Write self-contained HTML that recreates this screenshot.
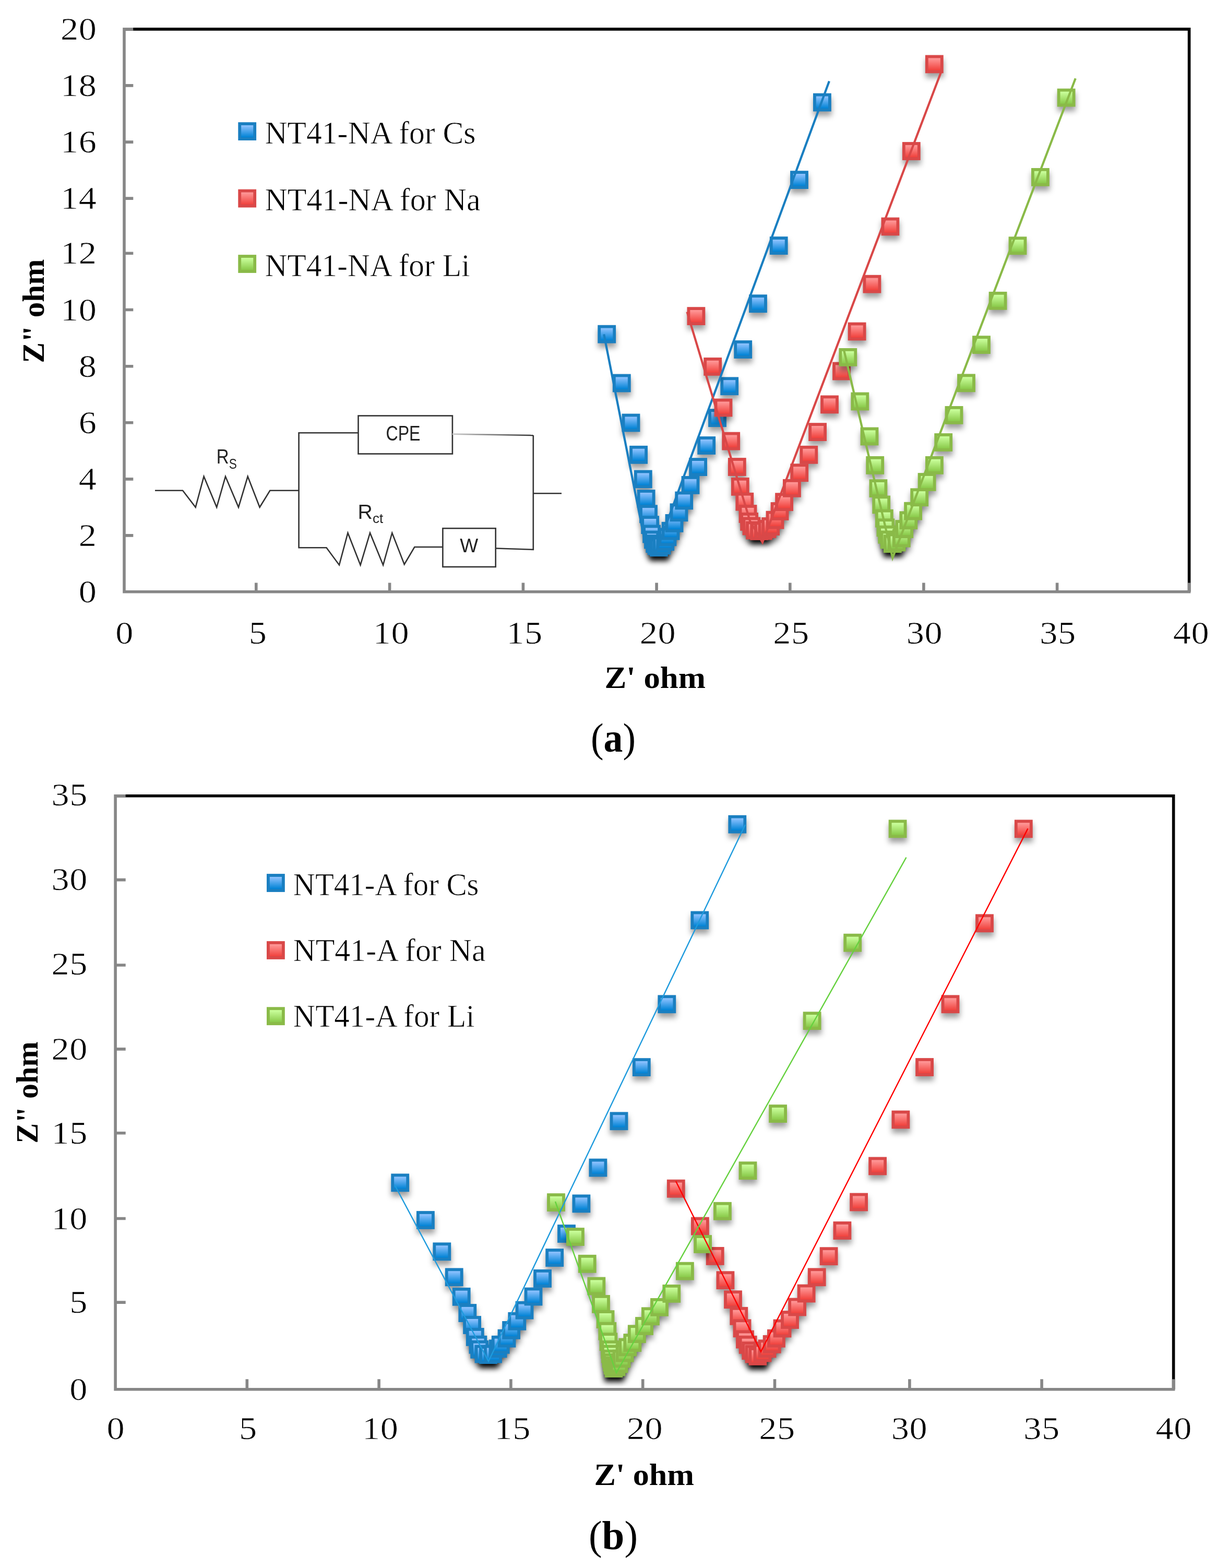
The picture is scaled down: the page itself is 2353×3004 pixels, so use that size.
<!DOCTYPE html>
<html lang="en"><head><meta charset="utf-8"><title>Nyquist plots</title>
<style>
html,body{margin:0;padding:0;background:#fff}
body{width:2353px;height:3004px;overflow:hidden}
svg{display:block;position:absolute;left:0;top:0}
text{font-family:"Liberation Serif",serif;fill:#000}
.tk{font-size:61px;stroke:#fff;stroke-width:0.7px}
.lg{font-size:62px;stroke:#fff;stroke-width:0.7px}
.ax{font-size:59px;font-weight:bold}
.cap{font-size:79px}
.ckt{font-family:"Liberation Sans",sans-serif;fill:#222}
</style></head><body>
<svg width="2353" height="3004" viewBox="0 0 2353 3004">
<defs>
<linearGradient id="gb" x1="0" y1="0" x2="0" y2="1"><stop offset="0.12" stop-color="#8ec2ff"/><stop offset="0.88" stop-color="#0384d6"/></linearGradient>
<linearGradient id="gr" x1="0" y1="0" x2="0" y2="1"><stop offset="0.12" stop-color="#ff9898"/><stop offset="0.88" stop-color="#f1443f"/></linearGradient>
<linearGradient id="gg" x1="0" y1="0" x2="0" y2="1"><stop offset="0.12" stop-color="#caff9c"/><stop offset="0.88" stop-color="#8bcb4c"/></linearGradient>
<filter id="sh" x="-10%" y="-10%" width="120%" height="120%"><feGaussianBlur stdDeviation="5.5"/></filter>
</defs>
<rect width="2353" height="3004" fill="#fff"/>
<path d="M238 55.9 H2278.6 V1133.8" fill="none" stroke="#000" stroke-width="5.6" stroke-linejoin="miter"/>
<path d="M238 53.1 V1133.8 H2281.4" fill="none" stroke="#878787" stroke-width="5.6" stroke-linejoin="miter"/>
<path d="M238 1025.9 h17.3 M238 917.9 h17.3 M238 809.7 h17.3 M238 701.7 h17.3 M238 593.5 h17.3 M238 485.3 h17.3 M238 380.1 h17.3 M238 272.1 h17.3 M238 163.9 h17.3 M238 55.9 h17.3 M490.8 1133.8 v-17.3 M746.6 1133.8 v-17.3 M1002.4 1133.8 v-17.3 M1258.1 1133.8 v-17.3 M1513.8 1133.8 v-17.3 M1769.9 1133.8 v-17.3 M2025.6 1133.8 v-17.3 M2278.6 1133.8 v-17.3" fill="none" stroke="#878787" stroke-width="5.6"/>
<text class="tk" text-anchor="end" transform="translate(185.5 1154.2) scale(1.12 1)" letter-spacing="0.5">0</text>
<text class="tk" text-anchor="end" transform="translate(185.5 1046) scale(1.12 1)" letter-spacing="0.5">2</text>
<text class="tk" text-anchor="end" transform="translate(185.5 937.8) scale(1.12 1)" letter-spacing="0.5">4</text>
<text class="tk" text-anchor="end" transform="translate(185.5 829.6) scale(1.12 1)" letter-spacing="0.5">6</text>
<text class="tk" text-anchor="end" transform="translate(185.5 721.8) scale(1.12 1)" letter-spacing="0.5">8</text>
<text class="tk" text-anchor="end" transform="translate(185.5 613.5) scale(1.12 1)" letter-spacing="0.5">10</text>
<text class="tk" text-anchor="end" transform="translate(185.5 505.3) scale(1.12 1)" letter-spacing="0.5">12</text>
<text class="tk" text-anchor="end" transform="translate(185.5 400.4) scale(1.12 1)" letter-spacing="0.5">14</text>
<text class="tk" text-anchor="end" transform="translate(185.5 292.1) scale(1.12 1)" letter-spacing="0.5">16</text>
<text class="tk" text-anchor="end" transform="translate(185.5 183.9) scale(1.12 1)" letter-spacing="0.5">18</text>
<text class="tk" text-anchor="end" transform="translate(185.5 75.7) scale(1.12 1)" letter-spacing="0.5">20</text>
<text class="tk" text-anchor="middle" transform="translate(238.5 1232.7) scale(1.12 1)" letter-spacing="0.5">0</text>
<text class="tk" text-anchor="middle" transform="translate(494 1232.7) scale(1.12 1)" letter-spacing="0.5">5</text>
<text class="tk" text-anchor="middle" transform="translate(749.5 1232.7) scale(1.12 1)" letter-spacing="0.5">10</text>
<text class="tk" text-anchor="middle" transform="translate(1005 1232.7) scale(1.12 1)" letter-spacing="0.5">15</text>
<text class="tk" text-anchor="middle" transform="translate(1260.5 1232.7) scale(1.12 1)" letter-spacing="0.5">20</text>
<text class="tk" text-anchor="middle" transform="translate(1516 1232.7) scale(1.12 1)" letter-spacing="0.5">25</text>
<text class="tk" text-anchor="middle" transform="translate(1771.5 1232.7) scale(1.12 1)" letter-spacing="0.5">30</text>
<text class="tk" text-anchor="middle" transform="translate(2027 1232.7) scale(1.12 1)" letter-spacing="0.5">35</text>
<text class="tk" text-anchor="middle" transform="translate(2282.5 1232.7) scale(1.12 1)" letter-spacing="0.5">40</text>
<rect x="459.2" y="237.1" width="29" height="29" fill="url(#gb)" stroke="#1a7fc1" stroke-width="5.8"/>
<text class="lg" x="507.5" y="274.6" textLength="404" lengthAdjust="spacingAndGlyphs">NT41-NA for Cs</text>
<rect x="459.2" y="365.6" width="29" height="29" fill="url(#gr)" stroke="#d94848" stroke-width="5.8"/>
<text class="lg" x="507.5" y="403.1" textLength="413" lengthAdjust="spacingAndGlyphs">NT41-NA for Na</text>
<rect x="459.2" y="491" width="29" height="29" fill="url(#gg)" stroke="#8aba48" stroke-width="5.8"/>
<text class="lg" x="507.5" y="529.4" textLength="393" lengthAdjust="spacingAndGlyphs">NT41-NA for Li</text>
<text class="ax" x="1158.5" y="1317.8" textLength="193.5" lengthAdjust="spacingAndGlyphs">Z' ohm</text>
<text class="ax" transform="translate(84.3 695.5) rotate(-90)" textLength="199" lengthAdjust="spacingAndGlyphs">Z" ohm</text>
<text class="cap" x="1132" y="1440.2" textLength="86" lengthAdjust="spacingAndGlyphs">(<tspan font-weight="bold">a</tspan>)</text>
<g fill="none" stroke="#333" stroke-width="2.6" stroke-linejoin="miter">
<path d="M297 939.8 H350.1 L374.7 971.8 L390.6 912.8 L415.2 971.8 L432 912.8 L457 971.8 L474.7 912.8 L497.6 971.8 L517.3 939.8 H572.6"/>
<path d="M686.5 829.2 H572.6 V1049.2 H625.5 L650 1082.4 L666.5 1021 L690.6 1082.4 L709 1021 L734.1 1082.4 L751.3 1021 L774.7 1081.2 L794.3 1048 H848.4"/>
<rect x="686.5" y="796.5" width="180.4" height="73"/>
<rect x="848.4" y="1012.2" width="101.3" height="73.8"/>
<path d="M949.7 1050.5 L1021.8 1052.9 V834.1"/>
<path d="M1021.8 945.2 H1076"/>
</g>
<defs><linearGradient id="fade" gradientUnits="userSpaceOnUse" x1="867" y1="0" x2="1022" y2="0"><stop offset="0" stop-color="#ccc"/><stop offset="1" stop-color="#333"/></linearGradient></defs>
<path d="M866.9 831.6 L1021.8 834.1" fill="none" stroke="url(#fade)" stroke-width="2.6"/>
<text class="ckt" x="739.5" y="844" font-size="41" textLength="66" lengthAdjust="spacingAndGlyphs">CPE</text>
<text class="ckt" x="881.2" y="1057.8" font-size="36.5" textLength="35" lengthAdjust="spacingAndGlyphs">W</text>
<text class="ckt" x="414.8" y="888.2" font-size="39.5" textLength="39" lengthAdjust="spacingAndGlyphs">R<tspan font-size="27" dy="9.5">S</tspan></text>
<text class="ckt" x="685.6" y="993.9" font-size="39.5" textLength="48.5" lengthAdjust="spacingAndGlyphs">R<tspan font-size="26" dy="8.5">ct</tspan></text>
<g filter="url(#sh)" fill="#000" fill-opacity="0.38"><rect x="1145.8" y="631.3" width="34.8" height="34.8"/><rect x="1174.4" y="725.1" width="34.8" height="34.8"/><rect x="1192.1" y="801.1" width="34.8" height="34.8"/><rect x="1206.7" y="862.4" width="34.8" height="34.8"/><rect x="1215.4" y="909.1" width="34.8" height="34.8"/><rect x="1221.2" y="946.6" width="34.8" height="34.8"/><rect x="1225.6" y="975.8" width="34.8" height="34.8"/><rect x="1228.8" y="996.7" width="34.8" height="34.8"/><rect x="1231.7" y="1014.1" width="34.8" height="34.8"/><rect x="1234.6" y="1025.1" width="34.8" height="34.8"/><rect x="1237.8" y="1032.8" width="34.8" height="34.8"/><rect x="1241.1" y="1037.1" width="34.8" height="34.8"/><rect x="1245.5" y="1039.9" width="34.8" height="34.8"/><rect x="1251.1" y="1036.1" width="34.8" height="34.8"/><rect x="1257.8" y="1028.9" width="34.8" height="34.8"/><rect x="1262" y="1019.9" width="34.8" height="34.8"/><rect x="1268.1" y="1008.3" width="34.8" height="34.8"/><rect x="1275.1" y="993.5" width="34.8" height="34.8"/><rect x="1284.1" y="972.9" width="34.8" height="34.8"/><rect x="1293.8" y="950.1" width="34.8" height="34.8"/><rect x="1306.1" y="920.5" width="34.8" height="34.8"/><rect x="1320.7" y="885.7" width="34.8" height="34.8"/><rect x="1336.8" y="844.6" width="34.8" height="34.8"/><rect x="1357.6" y="791.8" width="34.8" height="34.8"/><rect x="1380.8" y="730.9" width="34.8" height="34.8"/><rect x="1406.8" y="660.6" width="34.8" height="34.8"/><rect x="1435.6" y="572.8" width="34.8" height="34.8"/><rect x="1475.3" y="461.7" width="34.8" height="34.8"/><rect x="1514.6" y="335.7" width="34.8" height="34.8"/><rect x="1558.5" y="187.2" width="34.8" height="34.8"/><rect x="1244" y="1039.9" width="34.8" height="34.8"/><rect x="1245.5" y="1039.9" width="34.8" height="34.8"/><rect x="1247" y="1039.9" width="34.8" height="34.8"/><rect x="1244" y="1038.9" width="34.8" height="34.8"/><rect x="1245.5" y="1038.9" width="34.8" height="34.8"/><rect x="1247" y="1038.9" width="34.8" height="34.8"/><rect x="1244" y="1037.9" width="34.8" height="34.8"/><rect x="1245.5" y="1037.9" width="34.8" height="34.8"/><rect x="1247" y="1037.9" width="34.8" height="34.8"/><rect x="1244" y="1036.9" width="34.8" height="34.8"/><rect x="1245.5" y="1036.9" width="34.8" height="34.8"/><rect x="1247" y="1036.9" width="34.8" height="34.8"/><rect x="1244" y="1035.9" width="34.8" height="34.8"/><rect x="1245.5" y="1035.9" width="34.8" height="34.8"/></g>
<g fill="url(#gb)" stroke="#1a7fc1" stroke-width="5.8"><rect x="1148.2" y="625.7" width="29" height="29"/><rect x="1176.8" y="719.5" width="29" height="29"/><rect x="1194.5" y="795.5" width="29" height="29"/><rect x="1209.1" y="856.8" width="29" height="29"/><rect x="1217.8" y="903.5" width="29" height="29"/><rect x="1223.6" y="941" width="29" height="29"/><rect x="1228" y="970.2" width="29" height="29"/><rect x="1231.2" y="991.1" width="29" height="29"/><rect x="1234.1" y="1008.5" width="29" height="29"/><rect x="1237" y="1019.5" width="29" height="29"/><rect x="1240.2" y="1027.2" width="29" height="29"/><rect x="1243.5" y="1031.5" width="29" height="29"/><rect x="1247.9" y="1034.3" width="29" height="29"/><rect x="1253.5" y="1030.5" width="29" height="29"/><rect x="1260.2" y="1023.3" width="29" height="29"/><rect x="1264.4" y="1014.3" width="29" height="29"/><rect x="1270.5" y="1002.7" width="29" height="29"/><rect x="1277.5" y="987.9" width="29" height="29"/><rect x="1286.5" y="967.3" width="29" height="29"/><rect x="1296.2" y="944.5" width="29" height="29"/><rect x="1308.5" y="914.9" width="29" height="29"/><rect x="1323.1" y="880.1" width="29" height="29"/><rect x="1339.2" y="839" width="29" height="29"/><rect x="1360" y="786.2" width="29" height="29"/><rect x="1383.2" y="725.3" width="29" height="29"/><rect x="1409.2" y="655" width="29" height="29"/><rect x="1438" y="567.2" width="29" height="29"/><rect x="1477.7" y="456.1" width="29" height="29"/><rect x="1517" y="330.1" width="29" height="29"/><rect x="1560.9" y="181.6" width="29" height="29"/></g>
<g filter="url(#sh)" fill="#000" fill-opacity="0.38"><rect x="1317" y="596.7" width="34.8" height="34.8"/><rect x="1348.8" y="693.5" width="34.8" height="34.8"/><rect x="1369.1" y="772.1" width="34.8" height="34.8"/><rect x="1383.8" y="836.2" width="34.8" height="34.8"/><rect x="1395.4" y="885.6" width="34.8" height="34.8"/><rect x="1401.4" y="923.4" width="34.8" height="34.8"/><rect x="1409.9" y="952.3" width="34.8" height="34.8"/><rect x="1416.1" y="975.6" width="34.8" height="34.8"/><rect x="1418.7" y="990.5" width="34.8" height="34.8"/><rect x="1423.1" y="999.1" width="34.8" height="34.8"/><rect x="1429.6" y="1007.1" width="34.8" height="34.8"/><rect x="1437.8" y="1008.6" width="34.8" height="34.8"/><rect x="1445.6" y="1008.1" width="34.8" height="34.8"/><rect x="1453.1" y="1004.6" width="34.8" height="34.8"/><rect x="1459.7" y="999.6" width="34.8" height="34.8"/><rect x="1468.1" y="987.3" width="34.8" height="34.8"/><rect x="1477.1" y="970.6" width="34.8" height="34.8"/><rect x="1485.7" y="952.8" width="34.8" height="34.8"/><rect x="1500.5" y="926.4" width="34.8" height="34.8"/><rect x="1514.8" y="896.8" width="34.8" height="34.8"/><rect x="1532.9" y="862.4" width="34.8" height="34.8"/><rect x="1549.7" y="818.7" width="34.8" height="34.8"/><rect x="1572.6" y="766" width="34.8" height="34.8"/><rect x="1595.6" y="702.1" width="34.8" height="34.8"/><rect x="1625.2" y="626.1" width="34.8" height="34.8"/><rect x="1654" y="535.3" width="34.8" height="34.8"/><rect x="1689" y="425.1" width="34.8" height="34.8"/><rect x="1729.4" y="280.6" width="34.8" height="34.8"/><rect x="1773.4" y="114" width="34.8" height="34.8"/><rect x="1436.3" y="1008.6" width="34.8" height="34.8"/><rect x="1437.8" y="1008.6" width="34.8" height="34.8"/><rect x="1439.3" y="1008.6" width="34.8" height="34.8"/><rect x="1436.3" y="1007.6" width="34.8" height="34.8"/><rect x="1437.8" y="1007.6" width="34.8" height="34.8"/><rect x="1439.3" y="1007.6" width="34.8" height="34.8"/><rect x="1436.3" y="1006.6" width="34.8" height="34.8"/><rect x="1437.8" y="1006.6" width="34.8" height="34.8"/><rect x="1439.3" y="1006.6" width="34.8" height="34.8"/><rect x="1436.3" y="1005.6" width="34.8" height="34.8"/><rect x="1437.8" y="1005.6" width="34.8" height="34.8"/><rect x="1439.3" y="1005.6" width="34.8" height="34.8"/><rect x="1436.3" y="1004.6" width="34.8" height="34.8"/><rect x="1437.8" y="1004.6" width="34.8" height="34.8"/></g>
<g fill="url(#gr)" stroke="#d94848" stroke-width="5.8"><rect x="1319.4" y="591.1" width="29" height="29"/><rect x="1351.2" y="687.9" width="29" height="29"/><rect x="1371.5" y="766.5" width="29" height="29"/><rect x="1386.2" y="830.6" width="29" height="29"/><rect x="1397.8" y="880" width="29" height="29"/><rect x="1403.8" y="917.8" width="29" height="29"/><rect x="1412.3" y="946.7" width="29" height="29"/><rect x="1418.5" y="970" width="29" height="29"/><rect x="1421.1" y="984.9" width="29" height="29"/><rect x="1425.5" y="993.5" width="29" height="29"/><rect x="1432" y="1001.5" width="29" height="29"/><rect x="1440.2" y="1003" width="29" height="29"/><rect x="1448" y="1002.5" width="29" height="29"/><rect x="1455.5" y="999" width="29" height="29"/><rect x="1462.1" y="994" width="29" height="29"/><rect x="1470.5" y="981.7" width="29" height="29"/><rect x="1479.5" y="965" width="29" height="29"/><rect x="1488.1" y="947.2" width="29" height="29"/><rect x="1502.9" y="920.8" width="29" height="29"/><rect x="1517.2" y="891.2" width="29" height="29"/><rect x="1535.3" y="856.8" width="29" height="29"/><rect x="1552.1" y="813.1" width="29" height="29"/><rect x="1575" y="760.4" width="29" height="29"/><rect x="1598" y="696.5" width="29" height="29"/><rect x="1627.6" y="620.5" width="29" height="29"/><rect x="1656.4" y="529.7" width="29" height="29"/><rect x="1691.4" y="419.5" width="29" height="29"/><rect x="1731.8" y="275" width="29" height="29"/><rect x="1775.8" y="108.4" width="29" height="29"/></g>
<g filter="url(#sh)" fill="#000" fill-opacity="0.38"><rect x="1607.9" y="675.5" width="34.8" height="34.8"/><rect x="1630.9" y="760.1" width="34.8" height="34.8"/><rect x="1649.1" y="827.1" width="34.8" height="34.8"/><rect x="1659.8" y="882.5" width="34.8" height="34.8"/><rect x="1666" y="926.7" width="34.8" height="34.8"/><rect x="1671.8" y="958" width="34.8" height="34.8"/><rect x="1677.4" y="984.3" width="34.8" height="34.8"/><rect x="1680" y="1001.9" width="34.8" height="34.8"/><rect x="1682.8" y="1015.3" width="34.8" height="34.8"/><rect x="1687.1" y="1025.1" width="34.8" height="34.8"/><rect x="1693.4" y="1032.8" width="34.8" height="34.8"/><rect x="1701.1" y="1030.1" width="34.8" height="34.8"/><rect x="1710.4" y="1022.3" width="34.8" height="34.8"/><rect x="1715.8" y="1004.7" width="34.8" height="34.8"/><rect x="1723.9" y="987.9" width="34.8" height="34.8"/><rect x="1732.7" y="970.3" width="34.8" height="34.8"/><rect x="1744.8" y="943.9" width="34.8" height="34.8"/><rect x="1759.2" y="914.6" width="34.8" height="34.8"/><rect x="1773.5" y="882.5" width="34.8" height="34.8"/><rect x="1790.8" y="838.6" width="34.8" height="34.8"/><rect x="1811.1" y="786.5" width="34.8" height="34.8"/><rect x="1834.6" y="724.9" width="34.8" height="34.8"/><rect x="1863.6" y="651.7" width="34.8" height="34.8"/><rect x="1895.2" y="567.4" width="34.8" height="34.8"/><rect x="1933.1" y="461.9" width="34.8" height="34.8"/><rect x="1976.5" y="330.5" width="34.8" height="34.8"/><rect x="2026.2" y="178.2" width="34.8" height="34.8"/><rect x="1691.9" y="1032.8" width="34.8" height="34.8"/><rect x="1693.4" y="1032.8" width="34.8" height="34.8"/><rect x="1694.9" y="1032.8" width="34.8" height="34.8"/><rect x="1691.9" y="1031.8" width="34.8" height="34.8"/><rect x="1693.4" y="1031.8" width="34.8" height="34.8"/><rect x="1694.9" y="1031.8" width="34.8" height="34.8"/><rect x="1691.9" y="1030.8" width="34.8" height="34.8"/><rect x="1693.4" y="1030.8" width="34.8" height="34.8"/><rect x="1694.9" y="1030.8" width="34.8" height="34.8"/><rect x="1691.9" y="1029.8" width="34.8" height="34.8"/><rect x="1693.4" y="1029.8" width="34.8" height="34.8"/><rect x="1694.9" y="1029.8" width="34.8" height="34.8"/><rect x="1691.9" y="1028.8" width="34.8" height="34.8"/><rect x="1693.4" y="1028.8" width="34.8" height="34.8"/></g>
<g fill="url(#gg)" stroke="#8aba48" stroke-width="5.8"><rect x="1610.3" y="669.9" width="29" height="29"/><rect x="1633.3" y="754.5" width="29" height="29"/><rect x="1651.5" y="821.5" width="29" height="29"/><rect x="1662.2" y="876.9" width="29" height="29"/><rect x="1668.4" y="921.1" width="29" height="29"/><rect x="1674.2" y="952.4" width="29" height="29"/><rect x="1679.8" y="978.7" width="29" height="29"/><rect x="1682.4" y="996.3" width="29" height="29"/><rect x="1685.2" y="1009.7" width="29" height="29"/><rect x="1689.5" y="1019.5" width="29" height="29"/><rect x="1695.8" y="1027.2" width="29" height="29"/><rect x="1703.5" y="1024.5" width="29" height="29"/><rect x="1712.8" y="1016.7" width="29" height="29"/><rect x="1718.2" y="999.1" width="29" height="29"/><rect x="1726.3" y="982.3" width="29" height="29"/><rect x="1735.1" y="964.7" width="29" height="29"/><rect x="1747.2" y="938.3" width="29" height="29"/><rect x="1761.6" y="909" width="29" height="29"/><rect x="1775.9" y="876.9" width="29" height="29"/><rect x="1793.2" y="833" width="29" height="29"/><rect x="1813.5" y="780.9" width="29" height="29"/><rect x="1837" y="719.3" width="29" height="29"/><rect x="1866" y="646.1" width="29" height="29"/><rect x="1897.6" y="561.8" width="29" height="29"/><rect x="1935.5" y="456.3" width="29" height="29"/><rect x="1978.9" y="324.9" width="29" height="29"/><rect x="2028.6" y="172.6" width="29" height="29"/></g>
<path d="M1157.2 640.3 L1236.5 1042 L1256 1060.5 L1588.9 155.5" fill="none" stroke="#1a7fc1" stroke-width="4.2" stroke-linejoin="miter" stroke-miterlimit="10"/>
<path d="M1316.5 597.5 L1437 998 L1461 1039 L1803.2 138" fill="none" stroke="#d94848" stroke-width="4.2" stroke-linejoin="miter" stroke-miterlimit="10"/>
<path d="M1617.1 671 L1710.3 1068.5 L2060.8 150.2" fill="none" stroke="#8aba48" stroke-width="4.2" stroke-linejoin="miter" stroke-miterlimit="10"/>
<path d="M221.1 1524.8 H2248.6 V2661.8" fill="none" stroke="#000" stroke-width="5.6" stroke-linejoin="miter"/>
<path d="M221.1 1522 V2661.8 H2251.4" fill="none" stroke="#878787" stroke-width="5.6" stroke-linejoin="miter"/>
<path d="M221.1 2495.1 h19.6 M221.1 2334.5 h19.6 M221.1 2170.8 h19.6 M221.1 2009.9 h19.6 M221.1 1849 h19.6 M221.1 1685.6 h19.6 M221.1 1524.8 h19.6 M473.3 2661.8 v-19.6 M726.1 2661.8 v-19.6 M978.9 2661.8 v-19.6 M1231.7 2661.8 v-19.6 M1484.5 2661.8 v-19.6 M1742.9 2661.8 v-19.6 M1996.1 2661.8 v-19.6 M2248.6 2661.8 v-19.6" fill="none" stroke="#878787" stroke-width="5.6"/>
<text class="tk" text-anchor="end" transform="translate(168 2681.6) scale(1.12 1)" letter-spacing="0.5">0</text>
<text class="tk" text-anchor="end" transform="translate(168 2514.9) scale(1.12 1)" letter-spacing="0.5">5</text>
<text class="tk" text-anchor="end" transform="translate(168 2354.6) scale(1.12 1)" letter-spacing="0.5">10</text>
<text class="tk" text-anchor="end" transform="translate(168 2190.6) scale(1.12 1)" letter-spacing="0.5">15</text>
<text class="tk" text-anchor="end" transform="translate(168 2029.6) scale(1.12 1)" letter-spacing="0.5">20</text>
<text class="tk" text-anchor="end" transform="translate(168 1866.7) scale(1.12 1)" letter-spacing="0.5">25</text>
<text class="tk" text-anchor="end" transform="translate(168 1705.4) scale(1.12 1)" letter-spacing="0.5">30</text>
<text class="tk" text-anchor="end" transform="translate(168 1543) scale(1.12 1)" letter-spacing="0.5">35</text>
<text class="tk" text-anchor="middle" transform="translate(221.9 2756.5) scale(1.12 1)" letter-spacing="0.5">0</text>
<text class="tk" text-anchor="middle" transform="translate(475.3 2756.5) scale(1.12 1)" letter-spacing="0.5">5</text>
<text class="tk" text-anchor="middle" transform="translate(728.8 2756.5) scale(1.12 1)" letter-spacing="0.5">10</text>
<text class="tk" text-anchor="middle" transform="translate(982.2 2756.5) scale(1.12 1)" letter-spacing="0.5">15</text>
<text class="tk" text-anchor="middle" transform="translate(1235.6 2756.5) scale(1.12 1)" letter-spacing="0.5">20</text>
<text class="tk" text-anchor="middle" transform="translate(1489 2756.5) scale(1.12 1)" letter-spacing="0.5">25</text>
<text class="tk" text-anchor="middle" transform="translate(1742.5 2756.5) scale(1.12 1)" letter-spacing="0.5">30</text>
<text class="tk" text-anchor="middle" transform="translate(1995.9 2756.5) scale(1.12 1)" letter-spacing="0.5">35</text>
<text class="tk" text-anchor="middle" transform="translate(2249.3 2756.5) scale(1.12 1)" letter-spacing="0.5">40</text>
<rect x="513.9" y="1677" width="29" height="29" fill="url(#gb)" stroke="#1a7fc1" stroke-width="5.8"/>
<text class="lg" x="561.5" y="1714.6" textLength="356" lengthAdjust="spacingAndGlyphs">NT41-A for Cs</text>
<rect x="513.9" y="1806" width="29" height="29" fill="url(#gr)" stroke="#d94848" stroke-width="5.8"/>
<text class="lg" x="561.5" y="1840.9" textLength="369" lengthAdjust="spacingAndGlyphs">NT41-A for Na</text>
<rect x="513.9" y="1932.2" width="29" height="29" fill="url(#gg)" stroke="#8aba48" stroke-width="5.8"/>
<text class="lg" x="561.5" y="1967.3" textLength="348" lengthAdjust="spacingAndGlyphs">NT41-A for Li</text>
<text class="ax" x="1138.5" y="2845.3" textLength="191.5" lengthAdjust="spacingAndGlyphs">Z' ohm</text>
<text class="ax" transform="translate(72 2190.5) rotate(-90)" textLength="195" lengthAdjust="spacingAndGlyphs">Z" ohm</text>
<text class="cap" x="1128" y="2967.8" textLength="94" lengthAdjust="spacingAndGlyphs">(<tspan font-weight="bold">b</tspan>)</text>
<g filter="url(#sh)" fill="#000" fill-opacity="0.38"><rect x="749.8" y="2257" width="34.8" height="34.8"/><rect x="798.5" y="2328.6" width="34.8" height="34.8"/><rect x="829.9" y="2388.9" width="34.8" height="34.8"/><rect x="853.3" y="2437.9" width="34.8" height="34.8"/><rect x="867.3" y="2475.4" width="34.8" height="34.8"/><rect x="878.9" y="2506.6" width="34.8" height="34.8"/><rect x="887.7" y="2529.6" width="34.8" height="34.8"/><rect x="893.4" y="2552.5" width="34.8" height="34.8"/><rect x="899" y="2567.3" width="34.8" height="34.8"/><rect x="901.8" y="2576.4" width="34.8" height="34.8"/><rect x="910.1" y="2585.1" width="34.8" height="34.8"/><rect x="918.6" y="2586.7" width="34.8" height="34.8"/><rect x="927.6" y="2585.1" width="34.8" height="34.8"/><rect x="937.2" y="2574.9" width="34.8" height="34.8"/><rect x="942.3" y="2567.3" width="34.8" height="34.8"/><rect x="954.1" y="2555.2" width="34.8" height="34.8"/><rect x="962.7" y="2539.5" width="34.8" height="34.8"/><rect x="973.9" y="2522.4" width="34.8" height="34.8"/><rect x="988.1" y="2501.3" width="34.8" height="34.8"/><rect x="1005.1" y="2475.1" width="34.8" height="34.8"/><rect x="1022.6" y="2440.5" width="34.8" height="34.8"/><rect x="1045.8" y="2400.6" width="34.8" height="34.8"/><rect x="1068.6" y="2354.6" width="34.8" height="34.8"/><rect x="1097" y="2297" width="34.8" height="34.8"/><rect x="1129" y="2228.2" width="34.8" height="34.8"/><rect x="1169.1" y="2138.9" width="34.8" height="34.8"/><rect x="1212.4" y="2035.7" width="34.8" height="34.8"/><rect x="1260.9" y="1914.9" width="34.8" height="34.8"/><rect x="1323.9" y="1754.1" width="34.8" height="34.8"/><rect x="1395.9" y="1570.3" width="34.8" height="34.8"/><rect x="917.1" y="2586.7" width="34.8" height="34.8"/><rect x="918.6" y="2586.7" width="34.8" height="34.8"/><rect x="920.1" y="2586.7" width="34.8" height="34.8"/><rect x="917.1" y="2585.7" width="34.8" height="34.8"/><rect x="918.6" y="2585.7" width="34.8" height="34.8"/><rect x="920.1" y="2585.7" width="34.8" height="34.8"/><rect x="917.1" y="2584.7" width="34.8" height="34.8"/><rect x="918.6" y="2584.7" width="34.8" height="34.8"/><rect x="920.1" y="2584.7" width="34.8" height="34.8"/><rect x="917.1" y="2583.7" width="34.8" height="34.8"/><rect x="918.6" y="2583.7" width="34.8" height="34.8"/><rect x="920.1" y="2583.7" width="34.8" height="34.8"/><rect x="917.1" y="2582.7" width="34.8" height="34.8"/><rect x="918.6" y="2582.7" width="34.8" height="34.8"/></g>
<g fill="url(#gb)" stroke="#1a7fc1" stroke-width="5.8"><rect x="752.2" y="2251.4" width="29" height="29"/><rect x="800.9" y="2323" width="29" height="29"/><rect x="832.3" y="2383.3" width="29" height="29"/><rect x="855.7" y="2432.3" width="29" height="29"/><rect x="869.7" y="2469.8" width="29" height="29"/><rect x="881.3" y="2501" width="29" height="29"/><rect x="890.1" y="2524" width="29" height="29"/><rect x="895.8" y="2546.9" width="29" height="29"/><rect x="901.4" y="2561.7" width="29" height="29"/><rect x="904.2" y="2570.8" width="29" height="29"/><rect x="912.5" y="2579.5" width="29" height="29"/><rect x="921" y="2581.1" width="29" height="29"/><rect x="930" y="2579.5" width="29" height="29"/><rect x="939.6" y="2569.3" width="29" height="29"/><rect x="944.7" y="2561.7" width="29" height="29"/><rect x="956.5" y="2549.6" width="29" height="29"/><rect x="965.1" y="2533.9" width="29" height="29"/><rect x="976.3" y="2516.8" width="29" height="29"/><rect x="990.5" y="2495.7" width="29" height="29"/><rect x="1007.5" y="2469.5" width="29" height="29"/><rect x="1025" y="2434.9" width="29" height="29"/><rect x="1048.2" y="2395" width="29" height="29"/><rect x="1071" y="2349" width="29" height="29"/><rect x="1099.4" y="2291.4" width="29" height="29"/><rect x="1131.4" y="2222.6" width="29" height="29"/><rect x="1171.5" y="2133.3" width="29" height="29"/><rect x="1214.8" y="2030.1" width="29" height="29"/><rect x="1263.3" y="1909.3" width="29" height="29"/><rect x="1326.3" y="1748.5" width="29" height="29"/><rect x="1398.3" y="1564.7" width="29" height="29"/></g>
<g filter="url(#sh)" fill="#000" fill-opacity="0.38"><rect x="1278.4" y="2268.3" width="34.8" height="34.8"/><rect x="1324.5" y="2340.2" width="34.8" height="34.8"/><rect x="1353.3" y="2397.5" width="34.8" height="34.8"/><rect x="1373" y="2443.8" width="34.8" height="34.8"/><rect x="1387.6" y="2480.8" width="34.8" height="34.8"/><rect x="1398.9" y="2512.4" width="34.8" height="34.8"/><rect x="1405.1" y="2535.9" width="34.8" height="34.8"/><rect x="1410.6" y="2557.1" width="34.8" height="34.8"/><rect x="1416.3" y="2567.4" width="34.8" height="34.8"/><rect x="1421.9" y="2578.7" width="34.8" height="34.8"/><rect x="1428.1" y="2585.1" width="34.8" height="34.8"/><rect x="1434.9" y="2589.5" width="34.8" height="34.8"/><rect x="1444.1" y="2583.1" width="34.8" height="34.8"/><rect x="1453.1" y="2574.9" width="34.8" height="34.8"/><rect x="1462.3" y="2566.4" width="34.8" height="34.8"/><rect x="1470.5" y="2555.3" width="34.8" height="34.8"/><rect x="1482.1" y="2536.1" width="34.8" height="34.8"/><rect x="1496.6" y="2519.6" width="34.8" height="34.8"/><rect x="1510.7" y="2495.1" width="34.8" height="34.8"/><rect x="1528.2" y="2469.1" width="34.8" height="34.8"/><rect x="1548.3" y="2437.9" width="34.8" height="34.8"/><rect x="1571.2" y="2397.8" width="34.8" height="34.8"/><rect x="1597" y="2348.6" width="34.8" height="34.8"/><rect x="1628.7" y="2294.1" width="34.8" height="34.8"/><rect x="1664.7" y="2225.1" width="34.8" height="34.8"/><rect x="1709" y="2136.1" width="34.8" height="34.8"/><rect x="1754.7" y="2035.6" width="34.8" height="34.8"/><rect x="1804.1" y="1914.9" width="34.8" height="34.8"/><rect x="1869.6" y="1759.9" width="34.8" height="34.8"/><rect x="1944.4" y="1579" width="34.8" height="34.8"/><rect x="1433.4" y="2589.5" width="34.8" height="34.8"/><rect x="1434.9" y="2589.5" width="34.8" height="34.8"/><rect x="1436.4" y="2589.5" width="34.8" height="34.8"/><rect x="1433.4" y="2588.5" width="34.8" height="34.8"/><rect x="1434.9" y="2588.5" width="34.8" height="34.8"/><rect x="1436.4" y="2588.5" width="34.8" height="34.8"/><rect x="1433.4" y="2587.5" width="34.8" height="34.8"/><rect x="1434.9" y="2587.5" width="34.8" height="34.8"/><rect x="1436.4" y="2587.5" width="34.8" height="34.8"/><rect x="1433.4" y="2586.5" width="34.8" height="34.8"/><rect x="1434.9" y="2586.5" width="34.8" height="34.8"/><rect x="1436.4" y="2586.5" width="34.8" height="34.8"/><rect x="1433.4" y="2585.5" width="34.8" height="34.8"/><rect x="1434.9" y="2585.5" width="34.8" height="34.8"/></g>
<g fill="url(#gr)" stroke="#d94848" stroke-width="5.8"><rect x="1280.8" y="2262.7" width="29" height="29"/><rect x="1326.9" y="2334.6" width="29" height="29"/><rect x="1355.7" y="2391.9" width="29" height="29"/><rect x="1375.4" y="2438.2" width="29" height="29"/><rect x="1390" y="2475.2" width="29" height="29"/><rect x="1401.3" y="2506.8" width="29" height="29"/><rect x="1407.5" y="2530.3" width="29" height="29"/><rect x="1413" y="2551.5" width="29" height="29"/><rect x="1418.7" y="2561.8" width="29" height="29"/><rect x="1424.3" y="2573.1" width="29" height="29"/><rect x="1430.5" y="2579.5" width="29" height="29"/><rect x="1437.3" y="2583.9" width="29" height="29"/><rect x="1446.5" y="2577.5" width="29" height="29"/><rect x="1455.5" y="2569.3" width="29" height="29"/><rect x="1464.7" y="2560.8" width="29" height="29"/><rect x="1472.9" y="2549.7" width="29" height="29"/><rect x="1484.5" y="2530.5" width="29" height="29"/><rect x="1499" y="2514" width="29" height="29"/><rect x="1513.1" y="2489.5" width="29" height="29"/><rect x="1530.6" y="2463.5" width="29" height="29"/><rect x="1550.7" y="2432.3" width="29" height="29"/><rect x="1573.6" y="2392.2" width="29" height="29"/><rect x="1599.4" y="2343" width="29" height="29"/><rect x="1631.1" y="2288.5" width="29" height="29"/><rect x="1667.1" y="2219.5" width="29" height="29"/><rect x="1711.4" y="2130.5" width="29" height="29"/><rect x="1757.1" y="2030" width="29" height="29"/><rect x="1806.5" y="1909.3" width="29" height="29"/><rect x="1872" y="1754.3" width="29" height="29"/><rect x="1946.8" y="1573.4" width="29" height="29"/></g>
<g filter="url(#sh)" fill="#000" fill-opacity="0.38"><rect x="1048.6" y="2294.7" width="34.8" height="34.8"/><rect x="1085.5" y="2360.6" width="34.8" height="34.8"/><rect x="1108.3" y="2412.4" width="34.8" height="34.8"/><rect x="1125.9" y="2455.1" width="34.8" height="34.8"/><rect x="1134.6" y="2489.5" width="34.8" height="34.8"/><rect x="1143.1" y="2518.7" width="34.8" height="34.8"/><rect x="1146.9" y="2541.4" width="34.8" height="34.8"/><rect x="1149" y="2561.8" width="34.8" height="34.8"/><rect x="1151.8" y="2576.6" width="34.8" height="34.8"/><rect x="1152.5" y="2585" width="34.8" height="34.8"/><rect x="1154.1" y="2594.1" width="34.8" height="34.8"/><rect x="1155.6" y="2601.1" width="34.8" height="34.8"/><rect x="1157.1" y="2607.1" width="34.8" height="34.8"/><rect x="1159.1" y="2612.7" width="34.8" height="34.8"/><rect x="1164.1" y="2610.1" width="34.8" height="34.8"/><rect x="1169.1" y="2604.1" width="34.8" height="34.8"/><rect x="1174.1" y="2594.1" width="34.8" height="34.8"/><rect x="1180.2" y="2583.3" width="34.8" height="34.8"/><rect x="1185.8" y="2572.1" width="34.8" height="34.8"/><rect x="1194.9" y="2563.6" width="34.8" height="34.8"/><rect x="1203.4" y="2546.8" width="34.8" height="34.8"/><rect x="1217.6" y="2531.6" width="34.8" height="34.8"/><rect x="1229.5" y="2512.9" width="34.8" height="34.8"/><rect x="1246.6" y="2495.5" width="34.8" height="34.8"/><rect x="1269.9" y="2469.5" width="34.8" height="34.8"/><rect x="1295.5" y="2426.3" width="34.8" height="34.8"/><rect x="1329.7" y="2374.6" width="34.8" height="34.8"/><rect x="1367.5" y="2311.4" width="34.8" height="34.8"/><rect x="1416.1" y="2233.8" width="34.8" height="34.8"/><rect x="1473.7" y="2124.7" width="34.8" height="34.8"/><rect x="1539.2" y="1946.8" width="34.8" height="34.8"/><rect x="1616.8" y="1797.3" width="34.8" height="34.8"/><rect x="1703.2" y="1579" width="34.8" height="34.8"/><rect x="1157.6" y="2612.7" width="34.8" height="34.8"/><rect x="1159.1" y="2612.7" width="34.8" height="34.8"/><rect x="1160.6" y="2612.7" width="34.8" height="34.8"/><rect x="1157.6" y="2611.7" width="34.8" height="34.8"/><rect x="1159.1" y="2611.7" width="34.8" height="34.8"/><rect x="1160.6" y="2611.7" width="34.8" height="34.8"/><rect x="1157.6" y="2610.7" width="34.8" height="34.8"/><rect x="1159.1" y="2610.7" width="34.8" height="34.8"/><rect x="1160.6" y="2610.7" width="34.8" height="34.8"/><rect x="1157.6" y="2609.7" width="34.8" height="34.8"/><rect x="1159.1" y="2609.7" width="34.8" height="34.8"/><rect x="1160.6" y="2609.7" width="34.8" height="34.8"/><rect x="1157.6" y="2608.7" width="34.8" height="34.8"/><rect x="1159.1" y="2608.7" width="34.8" height="34.8"/></g>
<g fill="url(#gg)" stroke="#8aba48" stroke-width="5.8"><rect x="1051" y="2289.1" width="29" height="29"/><rect x="1087.9" y="2355" width="29" height="29"/><rect x="1110.7" y="2406.8" width="29" height="29"/><rect x="1128.3" y="2449.5" width="29" height="29"/><rect x="1137" y="2483.9" width="29" height="29"/><rect x="1145.5" y="2513.1" width="29" height="29"/><rect x="1149.3" y="2535.8" width="29" height="29"/><rect x="1151.4" y="2556.2" width="29" height="29"/><rect x="1154.2" y="2571" width="29" height="29"/><rect x="1154.9" y="2579.4" width="29" height="29"/><rect x="1156.5" y="2588.5" width="29" height="29"/><rect x="1158" y="2595.5" width="29" height="29"/><rect x="1159.5" y="2601.5" width="29" height="29"/><rect x="1161.5" y="2607.1" width="29" height="29"/><rect x="1166.5" y="2604.5" width="29" height="29"/><rect x="1171.5" y="2598.5" width="29" height="29"/><rect x="1176.5" y="2588.5" width="29" height="29"/><rect x="1182.6" y="2577.7" width="29" height="29"/><rect x="1188.2" y="2566.5" width="29" height="29"/><rect x="1197.3" y="2558" width="29" height="29"/><rect x="1205.8" y="2541.2" width="29" height="29"/><rect x="1220" y="2526" width="29" height="29"/><rect x="1231.9" y="2507.3" width="29" height="29"/><rect x="1249" y="2489.9" width="29" height="29"/><rect x="1272.3" y="2463.9" width="29" height="29"/><rect x="1297.9" y="2420.7" width="29" height="29"/><rect x="1332.1" y="2369" width="29" height="29"/><rect x="1369.9" y="2305.8" width="29" height="29"/><rect x="1418.5" y="2228.2" width="29" height="29"/><rect x="1476.1" y="2119.1" width="29" height="29"/><rect x="1541.6" y="1941.2" width="29" height="29"/><rect x="1619.2" y="1791.7" width="29" height="29"/><rect x="1705.6" y="1573.4" width="29" height="29"/></g>
<path d="M756 2269.6 L936 2608 L1428 1580" fill="none" stroke="#1f9bdd" stroke-width="2.4" stroke-linejoin="miter" stroke-miterlimit="10"/>
<path d="M1295 2263 L1458 2589.5 L1969.5 1587.4" fill="none" stroke="#ff0000" stroke-width="2.4" stroke-linejoin="miter" stroke-miterlimit="10"/>
<path d="M1064 2302 L1181 2630 L1736.5 1642.6" fill="none" stroke="#66d13f" stroke-width="2.4" stroke-linejoin="miter" stroke-miterlimit="10"/>
</svg>
</body></html>
